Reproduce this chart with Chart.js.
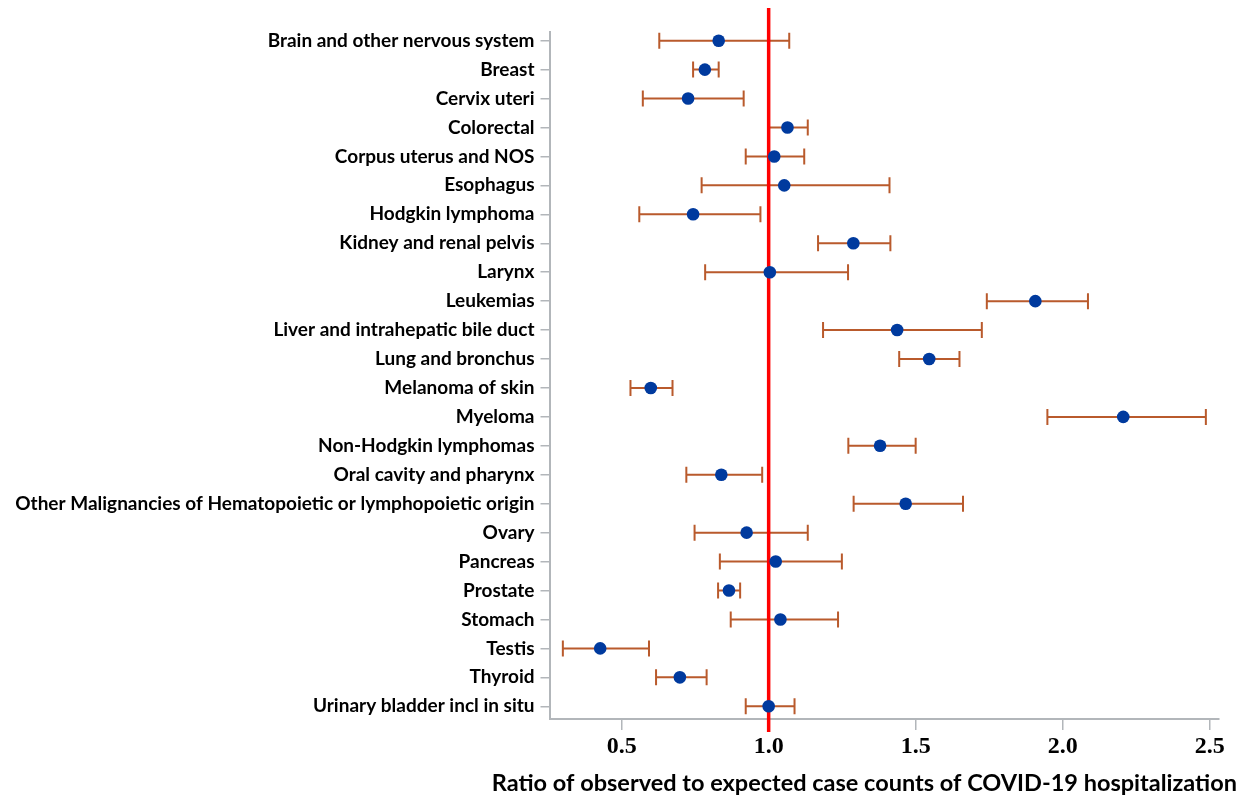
<!DOCTYPE html>
<html>
<head>
<meta charset="utf-8">
<script src="https://cdn.jsdelivr.net/npm/chart.js@4/dist/chart.umd.min.js"></script>
<style>
  html, body { margin: 0; padding: 0; background: #ffffff; }
  #wrap { width: 1253px; height: 799px; }
</style>
</head>
<body>
<div id="wrap"><canvas id="c" width="1253" height="799"></canvas></div>
<script>
const categories = [
  "Brain and other nervous system",
  "Breast",
  "Cervix uteri",
  "Colorectal",
  "Corpus uterus and NOS",
  "Esophagus",
  "Hodgkin lymphoma",
  "Kidney and renal pelvis",
  "Larynx",
  "Leukemias",
  "Liver and intrahepatic bile duct",
  "Lung and bronchus",
  "Melanoma of skin",
  "Myeloma",
  "Non-Hodgkin lymphomas",
  "Oral cavity and pharynx",
  "Other Malignancies of Hematopoietic or lymphopoietic origin",
  "Ovary",
  "Pancreas",
  "Prostate",
  "Stomach",
  "Testis",
  "Thyroid",
  "Urinary bladder incl in situ"
];
const estimate = [0.830, 0.783, 0.726, 1.064, 1.019, 1.053, 0.743, 1.288, 1.004, 1.907, 1.437, 1.546, 0.599, 2.206, 1.379, 0.839, 1.466, 0.925, 1.024, 0.865, 1.040, 0.427, 0.698, 1.000];
const lower    = [0.628, 0.743, 0.572, 1.000, 0.922, 0.772, 0.560, 1.168, 0.784, 1.742, 1.185, 1.444, 0.530, 1.948, 1.271, 0.720, 1.289, 0.748, 0.834, 0.828, 0.871, 0.300, 0.617, 0.922];
const upper    = [1.070, 0.830, 0.915, 1.133, 1.121, 1.411, 0.972, 1.414, 1.270, 2.086, 1.725, 1.649, 0.673, 2.487, 1.500, 0.978, 1.661, 1.133, 1.249, 0.903, 1.236, 0.593, 0.789, 1.088];
const xTickValues = [0.5, 1.0, 1.5, 2.0, 2.5];
const REF_VALUE = 1.0;
const X_TITLE = "Ratio of observed to expected case counts of COVID-19 hospitalization";

const BAR_COLOR = '#b95a2c';
const DOT_COLOR = '#003a9e';
const AXIS_COLOR = '#b2b6ba';

const errorBarPlugin = {
  id: 'errorBars',
  beforeDatasetsDraw(chart) {
    const ctx = chart.ctx;
    const xs = chart.scales.x, ys = chart.scales.y;
    ctx.save();
    ctx.strokeStyle = BAR_COLOR;
    ctx.lineWidth = 2;
    const cap = 8;
    categories.forEach((c, i) => {
      const y = ys.getPixelForValue(i);
      const x1 = xs.getPixelForValue(lower[i]);
      const x2 = xs.getPixelForValue(upper[i]);
      ctx.beginPath();
      ctx.moveTo(x1, y); ctx.lineTo(x2, y);
      ctx.moveTo(x1, y - cap); ctx.lineTo(x1, y + cap);
      ctx.moveTo(x2, y - cap); ctx.lineTo(x2, y + cap);
      ctx.stroke();
    });
    // reference line
    const xr = xs.getPixelForValue(REF_VALUE);
    ctx.strokeStyle = '#ff0000';
    ctx.lineWidth = 3.5;
    ctx.beginPath();
    ctx.moveTo(xr, chart.chartArea.top - 24);
    ctx.lineTo(xr, chart.chartArea.bottom + 13);
    ctx.stroke();
    ctx.restore();
  }
};

const ctx = document.getElementById('c').getContext('2d');
new Chart(ctx, {
  type: 'scatter',
  data: {
    datasets: [{
      data: categories.map((c, i) => ({ x: estimate[i], y: i })),
      backgroundColor: DOT_COLOR,
      borderColor: DOT_COLOR,
      borderWidth: 0,
      pointRadius: 6.3,
      pointHoverRadius: 6.3
    }]
  },
  options: {
    responsive: false,
    animation: false,
    events: [],
    layout: { padding: { top: 32, left: 0, right: 16, bottom: 0 } },
    plugins: {
      legend: { display: false },
      tooltip: { enabled: false },
      title: {
        display: true,
        position: 'bottom',
        align: 'end',
        text: X_TITLE,
        color: '#000',
        font: { family: 'Lato', weight: 'bold', size: 23.5, lineHeight: 1.2 },
        padding: { top: 0, bottom: 1 }
      }
    },
    scales: {
      x: {
        type: 'linear',
        min: 0.2546,
        max: 2.530,
        afterBuildTicks: (s) => { s.ticks = xTickValues.map(v => ({ value: v })); },
        afterFit: (s) => { s.height = 50.8; s.paddingRight = 34.5; },
        grid: { drawOnChartArea: false, drawTicks: true, tickLength: 11, color: AXIS_COLOR, lineWidth: 1.5 },
        border: { display: true, color: AXIS_COLOR, width: 2 },
        ticks: {
          padding: 2,
          color: '#000',
          font: { family: 'Liberation Serif', weight: 'bold', size: 24 },
          callback: (v) => Number(v).toFixed(1),
          maxRotation: 0
        }
      },
      y: {
        type: 'linear',
        reverse: true,
        min: -0.3,
        max: 23.44,
        afterBuildTicks: (s) => { s.ticks = categories.map((c, i) => ({ value: i })); },
        afterFit: (s) => { s.width = 549.5; },
        grid: { drawOnChartArea: false, drawTicks: true, tickLength: 9, color: AXIS_COLOR, lineWidth: 1.5 },
        border: { display: true, color: AXIS_COLOR, width: 2 },
        ticks: {
          padding: 6,
          color: '#000',
          autoSkip: false,
          font: { family: 'Lato', weight: 'bold', size: 19 },
          callback: (v) => categories[v]
        }
      }
    }
  },
  plugins: [errorBarPlugin]
});
</script>
</body>
</html>
